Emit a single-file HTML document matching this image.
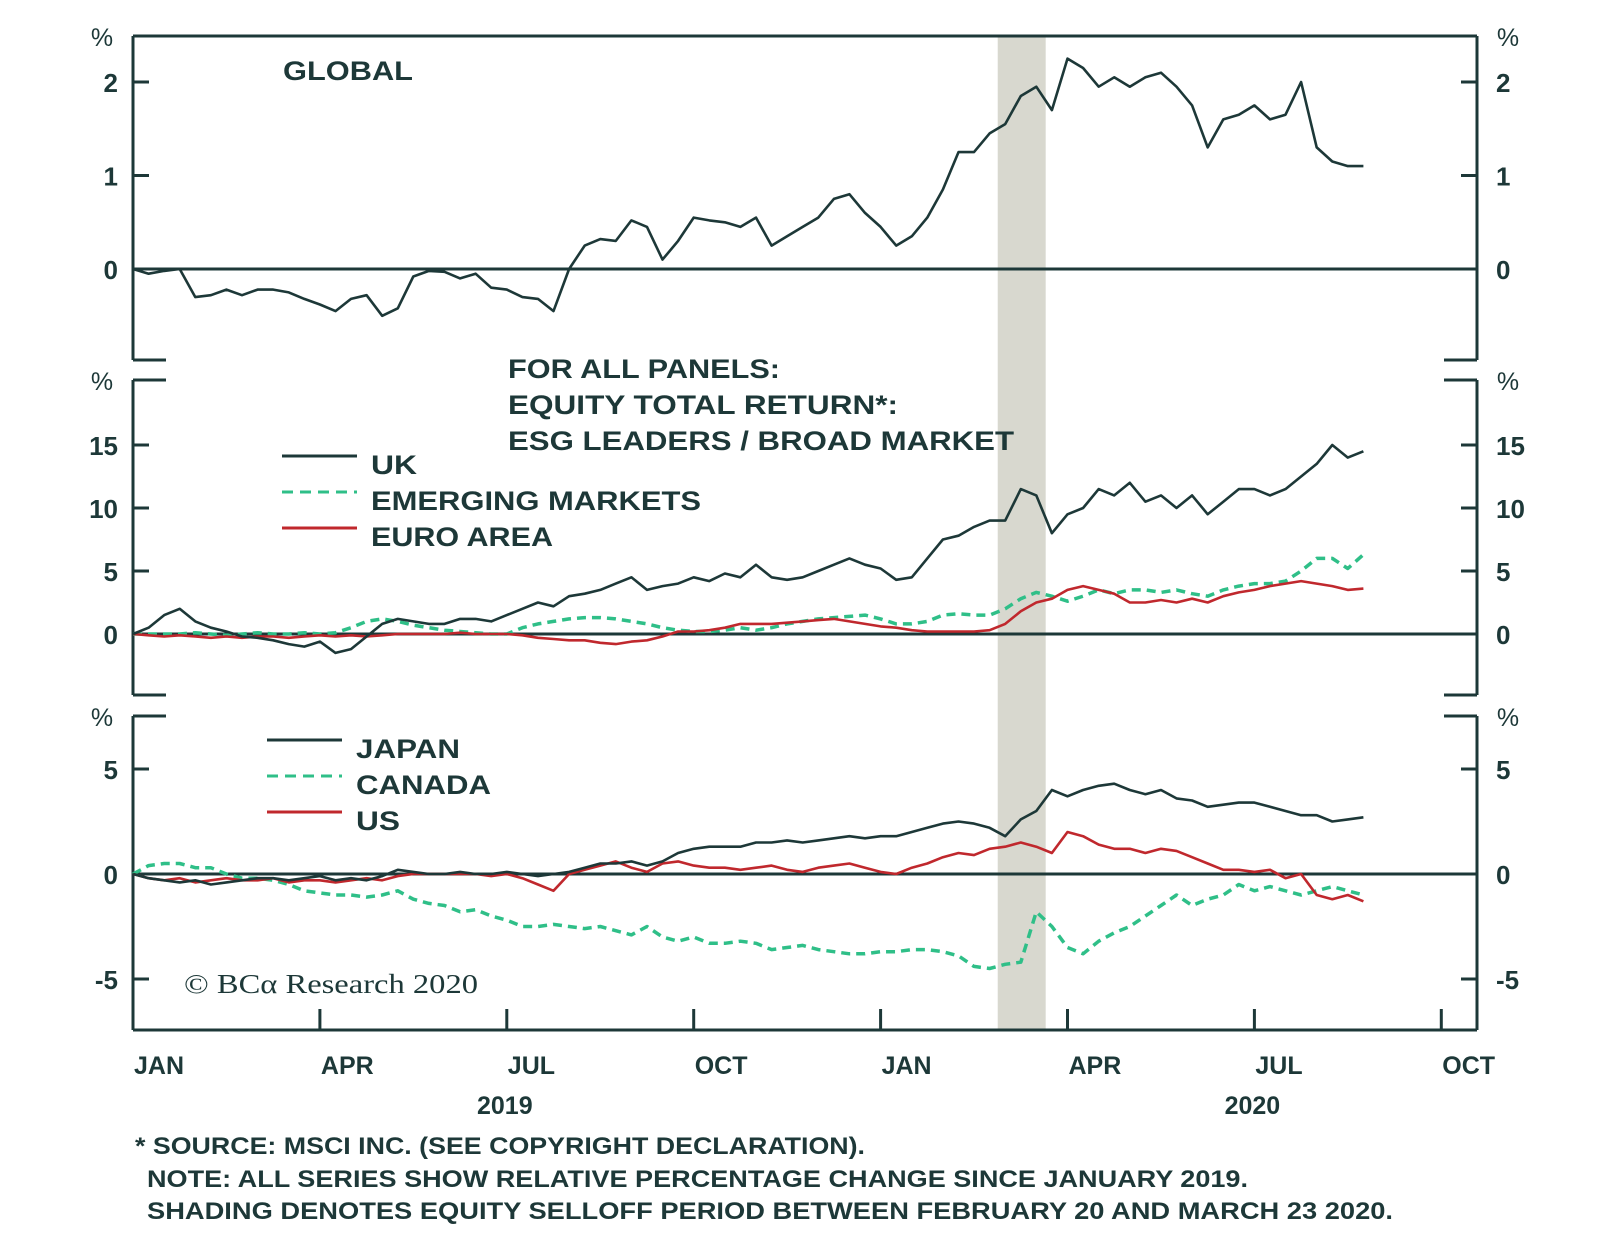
<!DOCTYPE html>
<html><head><meta charset="utf-8"><style>
html,body{margin:0;padding:0;background:#fff;}
svg{display:block;}
text{font-family:"Liberation Sans",sans-serif;font-weight:bold;fill:#1d3838;}
</style></head><body>
<svg id="chart" width="1600" height="1251" viewBox="0 0 1600 1251" xmlns="http://www.w3.org/2000/svg">
<g id="shade"></g><g id="axes"></g><g id="series"></g><g id="labels"></g>
</svg>
<script>
// months since Jan 2019, step 0.25
const globalVals = [0,-0.05,-0.02,0,-0.3,-0.28,-0.22,-0.28,-0.22,-0.22,-0.25,-0.32,-0.38,-0.45,-0.32,-0.28,-0.5,-0.42,-0.08,-0.02,-0.03,-0.1,-0.05,-0.2,-0.22,-0.3,-0.32,-0.45,0.0,0.25,0.32,0.3,0.52,0.45,0.1,0.3,0.55,0.52,0.5,0.45,0.55,0.25,0.35,0.45,0.55,0.75,0.8,0.6,0.45,0.25,0.35,0.55,0.85,1.25,1.25,1.45,1.55,1.85,1.95,1.7,2.25,2.15,1.95,2.05,1.95,2.05,2.1,1.95,1.75,1.3,1.6,1.65,1.75,1.6,1.65,2.0,1.3,1.15,1.1,1.1];
const ukVals = [0,0.5,1.5,2,1,0.5,0.2,-0.2,-0.3,-0.5,-0.8,-1,-0.6,-1.5,-1.2,-0.2,0.8,1.2,1,0.8,0.8,1.2,1.2,1.0,1.5,2.0,2.5,2.2,3.0,3.2,3.5,4.0,4.5,3.5,3.8,4.0,4.5,4.2,4.8,4.5,5.5,4.5,4.3,4.5,5.0,5.5,6.0,5.5,5.2,4.3,4.5,6.0,7.5,7.8,8.5,9.0,9.0,11.5,11.0,8.0,9.5,10.0,11.5,11.0,12.0,10.5,11.0,10.0,11.0,9.5,10.5,11.5,11.5,11.0,11.5,12.5,13.5,15.0,14.0,14.5];
const emVals = [0,0,0,0,0.1,0,-0.1,0,0.1,0,0,0.1,0,0.1,0.5,1.0,1.2,1.0,0.7,0.5,0.3,0.2,0.1,0,0,0.5,0.8,1.0,1.2,1.3,1.3,1.2,1.0,0.8,0.5,0.3,0.2,0.2,0.3,0.5,0.3,0.5,0.8,1.0,1.2,1.3,1.4,1.5,1.2,0.8,0.8,1.0,1.5,1.6,1.5,1.5,2.0,2.8,3.3,3.0,2.6,3.0,3.5,3.2,3.5,3.5,3.3,3.5,3.2,3.0,3.5,3.8,4.0,4.0,4.2,5.0,6.0,6.0,5.2,6.3];
const euroVals = [0,-0.1,-0.2,-0.1,-0.2,-0.3,-0.2,-0.3,-0.2,-0.2,-0.3,-0.2,-0.1,-0.2,-0.1,-0.2,-0.1,0,0,0,0,0.1,0,0,0,-0.1,-0.3,-0.4,-0.5,-0.5,-0.7,-0.8,-0.6,-0.5,-0.2,0.2,0.2,0.3,0.5,0.8,0.8,0.8,0.9,1.0,1.1,1.2,1.0,0.8,0.6,0.5,0.3,0.2,0.2,0.2,0.2,0.3,0.8,1.8,2.5,2.8,3.5,3.8,3.5,3.2,2.5,2.5,2.7,2.5,2.8,2.5,3.0,3.3,3.5,3.8,4.0,4.2,4.0,3.8,3.5,3.6];
const japanVals = [0,-0.2,-0.3,-0.4,-0.3,-0.5,-0.4,-0.3,-0.2,-0.2,-0.3,-0.2,-0.1,-0.3,-0.2,-0.3,-0.1,0.2,0.1,0,0,0.1,0,0,0.1,0,-0.1,0,0.1,0.3,0.5,0.5,0.6,0.4,0.6,1.0,1.2,1.3,1.3,1.3,1.5,1.5,1.6,1.5,1.6,1.7,1.8,1.7,1.8,1.8,2.0,2.2,2.4,2.5,2.4,2.2,1.8,2.6,3.0,4.0,3.7,4.0,4.2,4.3,4.0,3.8,4.0,3.6,3.5,3.2,3.3,3.4,3.4,3.2,3.0,2.8,2.8,2.5,2.6,2.7];
const canadaVals = [0,0.4,0.5,0.5,0.3,0.3,0.0,-0.2,-0.2,-0.3,-0.5,-0.8,-0.9,-1.0,-1.0,-1.1,-1.0,-0.8,-1.2,-1.4,-1.5,-1.8,-1.7,-2.0,-2.2,-2.5,-2.5,-2.4,-2.5,-2.6,-2.5,-2.7,-2.9,-2.5,-3.0,-3.2,-3.0,-3.3,-3.3,-3.2,-3.3,-3.6,-3.5,-3.4,-3.6,-3.7,-3.8,-3.8,-3.7,-3.7,-3.6,-3.6,-3.7,-3.9,-4.4,-4.5,-4.3,-4.2,-1.8,-2.5,-3.5,-3.8,-3.2,-2.8,-2.5,-2.0,-1.5,-1.0,-1.5,-1.2,-1.0,-0.5,-0.8,-0.6,-0.8,-1.0,-0.8,-0.6,-0.8,-1.0];
const usVals = [0,-0.2,-0.3,-0.2,-0.4,-0.3,-0.2,-0.3,-0.3,-0.2,-0.4,-0.3,-0.3,-0.4,-0.3,-0.2,-0.3,-0.1,0,0,0,0,0,-0.1,0,-0.2,-0.5,-0.8,0,0.2,0.4,0.6,0.3,0.1,0.5,0.6,0.4,0.3,0.3,0.2,0.3,0.4,0.2,0.1,0.3,0.4,0.5,0.3,0.1,0.0,0.3,0.5,0.8,1.0,0.9,1.2,1.3,1.5,1.3,1.0,2.0,1.8,1.4,1.2,1.2,1.0,1.2,1.1,0.8,0.5,0.2,0.2,0.1,0.2,-0.2,0.0,-1.0,-1.2,-1.0,-1.3];
const quarterLabels = ["JAN","APR","JUL","OCT","JAN","APR","JUL","OCT"];
const yearLabels = ["2019","2020"];
const topTicks = [0,1,2], midTicks = [0,5,10,15], botTicks = [-5,0,5];
const shadeStart = 13.88, shadeEnd = 14.65; // months: Feb 20 – Mar 23 2020

const NS="http://www.w3.org/2000/svg";
const DARK="#1d3838", GREEN="#2fbf88", RED="#c0282d";
const xL=133, xR=1477, mW=62.3;
const X = m => xL + m*mW;
const panels = {
  top:{top:36,bot:360,zero:269,scale:93.5},
  mid:{top:380,bot:695,zero:634,scale:12.6},
  bot:{top:716,bot:1030,zero:874,scale:21}
};
const Y = (p,v)=> panels[p].zero - v*panels[p].scale;
function el(tag,attrs,parent,txt){const e=document.createElementNS(NS,tag);for(const k in attrs)e.setAttribute(k,attrs[k]);if(txt!==undefined)e.textContent=txt;parent.appendChild(e);return e;}
const gA=document.getElementById('axes'),gS=document.getElementById('series'),gL=document.getElementById('labels'),gSh=document.getElementById('shade');

const sh=el('rect',{x:X(shadeStart),y:36,width:X(shadeEnd)-X(shadeStart),height:994,fill:"#d8d8cf"},gSh);



function frame(p,name,ticks,topClosed,botClosed){
  const P=panels[p];const s={stroke:DARK,'stroke-width':3,fill:'none'};
  let d=`M${xL},${P.top} L${xL},${P.bot} M${xR},${P.top} L${xR},${P.bot}`;
  if(topClosed) d+=` M${xL},${P.top} L${xR},${P.top}`; else d+=` M${xL},${P.top} L${xL+33},${P.top} M${xR-33},${P.top} L${xR},${P.top}`;
  if(botClosed) d+=` M${xL},${P.bot} L${xR},${P.bot}`; else d+=` M${xL},${P.bot} L${xL+33},${P.bot} M${xR-33},${P.bot} L${xR},${P.bot}`;
  const f=el('path',Object.assign({d},s),gA);
  
  
  const z=el('line',{x1:xL,x2:xR,y1:P.zero,y2:P.zero,stroke:DARK,'stroke-width':3},gA);
  
  
  ticks.forEach(t=>{
    const y=Y(p,t);
    if(t!==0){el('line',{x1:xL,x2:xL+16,y1:y,y2:y,stroke:DARK,'stroke-width':3},gA);el('line',{x1:xR-16,x2:xR,y1:y,y2:y,stroke:DARK,'stroke-width':3},gA);}
    const a=el('text',{x:118,y:y+10,'font-size':26,'text-anchor':'end'},gL,String(t));
    
    
    const b=el('text',{x:1496,y:y+10,'font-size':26},gL,String(t));
    
    
  });
  const pl=el('text',{x:102,y:P.top+10,'font-size':25,'text-anchor':'middle',style:'font-weight:normal'},gL,'%');
  
  
  const pr=el('text',{x:1508,y:P.top+10,'font-size':25,'text-anchor':'middle',style:'font-weight:normal'},gL,'%');
  
  
}
frame('top','global-panel',topTicks,true,false);
frame('mid','panel-2',midTicks,false,false);
frame('bot','panel-3',botTicks,false,true);

quarterLabels.forEach((q,i)=>{
  const x=X(i*3);
  if(i>0) el('line',{x1:x,x2:x,y1:panels.bot.bot,y2:panels.bot.bot-21,stroke:DARK,'stroke-width':3},gA);
  const t=el('text',{x:x+1,y:1074,'font-size':25},gL,q);
  
  
});
yearLabels.forEach((yl,i)=>{
  const t=el('text',{x:X(6+i*12)-2,y:1114,'font-size':25,'text-anchor':'middle'},gL,yl);
  
  
});

function line(p,vals,color,dash,name){
  const d=vals.map((v,i)=>(i?'L':'M')+X(i*0.25).toFixed(1)+','+Y(p,v).toFixed(1)).join(' ');
  const a={d,stroke:color,'stroke-width':dash?3.5:2.6,fill:'none','stroke-linejoin':'round'};
  if(dash)a['stroke-dasharray']='9 6';
  const e=el('path',a,gS);
  
  
}
line('top',globalVals,DARK,false,'global-line');
line('mid',emVals,GREEN,true,'emerging-markets-line');
line('mid',euroVals,RED,false,'euro-area-line');
line('mid',ukVals,DARK,false,'uk-line');
line('bot',canadaVals,GREEN,true,'canada-line');
line('bot',usVals,RED,false,'us-line');
line('bot',japanVals,DARK,false,'japan-line');

function txt(x,y,s,size,name,len,style){const a={x,y,'font-size':size};if(len){a.textLength=len;a.lengthAdjust='spacingAndGlyphs';}if(style)a.style=style;const t=el('text',a,gL,s);return t;}
txt(283,80,'GLOBAL',27,'global-panel-title',130);
txt(508,378,'FOR ALL PANELS:',27,'all-panels-title',272);
txt(508,414,'EQUITY TOTAL RETURN*:',27,'all-panels-subtitle',390);
txt(508,450,'ESG LEADERS / BROAD MARKET',27,'all-panels-ratio',506);
function legend(x,y,label,color,dash,name,len){
  const a={x1:x,x2:x+75,y1:y,y2:y,stroke:color,'stroke-width':3};if(dash)a['stroke-dasharray']='11 7';
  const l=el('line',a,gL);
  
  
  txt(x+89,y+18,label,27,name+'-label',len);
}
legend(282,456,'UK',DARK,false,'legend-uk',46);
legend(282,492,'EMERGING MARKETS',GREEN,true,'legend-em',330);
legend(282,528,'EURO AREA',RED,false,'legend-euro',182);
legend(267,740,'JAPAN',DARK,false,'legend-japan',104);
legend(267,776,'CANADA',GREEN,true,'legend-canada',135);
legend(267,812,'US',RED,false,'legend-us',44);
txt(184,993,'© BCα Research 2020',27,'copyright',294,'font-family:"Liberation Serif",serif;font-weight:normal');
txt(135,1154,'* SOURCE: MSCI INC. (SEE COPYRIGHT DECLARATION).',24,'footnote-source',730);
txt(147,1187,'NOTE: ALL SERIES SHOW RELATIVE PERCENTAGE CHANGE SINCE JANUARY 2019.',24,'footnote-note',1101);
txt(147,1219,'SHADING DENOTES EQUITY SELLOFF PERIOD BETWEEN FEBRUARY 20 AND MARCH 23 2020.',24,'footnote-shading',1246);
</script>
</body></html>
